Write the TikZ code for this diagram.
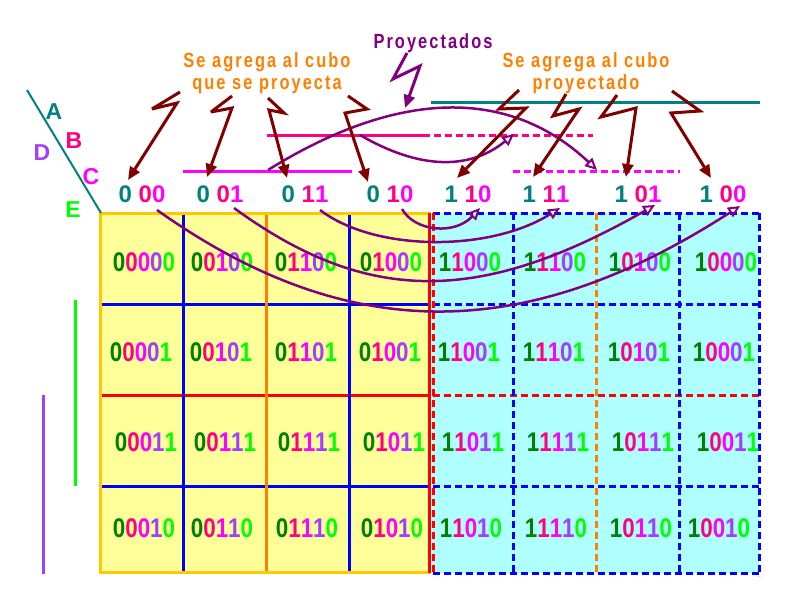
\documentclass[tikz,border=0pt]{standalone}
\usepackage{fontspec}
\setmainfont{Liberation Sans}
\newfontfamily\cellfont[FakeStretch=0.83]{Liberation Sans}
\newfontfamily\notefont[FakeStretch=0.8,LetterSpace=10]{Liberation Sans}
\usetikzlibrary{arrows.meta}
\definecolor{teal1}{HTML}{008080}
\definecolor{pinkr}{HTML}{FF0080}
\definecolor{magn}{HTML}{FF00FF}
\definecolor{purp}{HTML}{A040FF}
\definecolor{grn}{HTML}{00FF00}
\definecolor{dgrn}{HTML}{008000}
\definecolor{darkred}{HTML}{800000}
\definecolor{violet1}{HTML}{800080}
\definecolor{orng}{HTML}{FF8000}
\definecolor{gold1}{HTML}{FFC800}
\definecolor{yel}{HTML}{FFFF99}
\definecolor{cyn}{HTML}{B0FFFF}
\newcommand\kmcell[5]{\textcolor{dgrn}{#1}\textcolor{pinkr}{#2}\textcolor{magn}{#3}\textcolor{purp}{#4}\textcolor{grn}{#5}}
\newcommand\kmhdr[3]{\textcolor{teal1}{#1} \textcolor{pinkr}{#2}\textcolor{magn}{#3}}
\tikzset{
  gridln/.style={line width=3pt},
  dshln/.style={line width=3pt, dash pattern=on 7pt off 4pt},
  zig/.style={draw=darkred, line width=3pt, line join=miter, miter limit=4, -{Triangle[length=13pt,width=11pt]}},
  zigp/.style={draw=violet1, line width=3pt, line join=miter, miter limit=4, -{Triangle[length=13pt,width=11pt]}},
  curv/.style={draw=violet1, line width=2.5pt, -{Triangle[open,length=12pt,width=11pt,line width=2pt]}},
  cellt/.style={font=\cellfont\bfseries\fontsize{27}{27}\selectfont, inner sep=0pt},
  hdrt/.style={font=\bfseries\fontsize{24}{24}\selectfont, inner sep=0pt},
  lett/.style={font=\bfseries\fontsize{23}{23}\selectfont, inner sep=0pt},
  notet/.style={font=\notefont\bfseries\fontsize{20.5}{22}\selectfont, align=center, inner sep=0pt, text=orng},
  projt/.style={font=\notefont\bfseries\fontsize{20.5}{22}\selectfont, inner sep=0pt, text=violet1}
}
\begin{document}
\begin{tikzpicture}[x=1pt,y=-1pt]
\useasboundingbox (0,0) rectangle (800,600);
\fill[white] (0,0) rectangle (800,600);
% fills
\fill[yel] (100,213) rectangle (430,572);
\fill[cyn] (432,213) rectangle (759,573);
% yellow block lines
\draw[gridln, blue] (100,304) -- (430,304);
\draw[gridln, red] (100,395) -- (430,395);
\draw[gridln, blue] (100,486) -- (430,486);
\draw[gridln, blue] (183.5,213) -- (183.5,572);
\draw[gridln, orng] (266.5,213) -- (266.5,572);
\draw[gridln, blue] (349.5,213) -- (349.5,572);
\draw[gridln, gold1] (100,213) rectangle (429,572);
\draw[gridln, red] (429.5,213) -- (429.5,573);
% cyan block lines
\draw[dshln, blue] (433,213) -- (759,213);
\draw[dshln, blue] (433,304) -- (759,304);
\draw[dshln, red] (433,395) -- (759,395);
\draw[dshln, blue] (433,486) -- (759,486);
\draw[dshln, blue] (433,573) -- (759,573);
\draw[dshln, red] (433.5,213) -- (433.5,573);
\draw[dshln, blue] (513,213) -- (513,573);
\draw[dshln, orng] (596,213) -- (596,573);
\draw[dshln, blue] (679,213) -- (679,573);
\draw[dshln, blue] (759,213) -- (759,576);
% variable bars
\draw[line width=3pt, grn] (75,300) -- (75,486);
\draw[line width=3pt, purp] (43,395) -- (43,574);
\draw[line width=2pt, teal1] (27,90) -- (101,213);
% variable letters
\node[lett, text=teal1] (lA) at (54,112) {A};
\node[lett, text=pinkr] (lB) at (74,141) {B};
\node[lett, text=purp] (lD) at (42,153) {D};
\node[lett, text=magn] (lC) at (91,177) {C};
\node[lett, text=grn] (lE) at (73,210) {E};
% top bars
\draw[line width=3pt, magn] (183,171) -- (352,171);
\draw[line width=3pt, pinkr] (267,135) -- (430,135);
\draw[dshln, pinkr] (434,135) -- (593,135);
\draw[dshln, magn] (513,171) -- (680,171);
\draw[line width=3pt, teal1] (431,102) -- (760,102);
% header labels
\node[hdrt] (h1) at (142,194) {\kmhdr{0}{0}{0}};
\node[hdrt] (h2) at (220,194) {\kmhdr{0}{0}{1}};
\node[hdrt] (h3) at (305,194) {\kmhdr{0}{1}{1}};
\node[hdrt] (h4) at (390,194) {\kmhdr{0}{1}{0}};
\node[hdrt] (h5) at (468,194) {\kmhdr{1}{1}{0}};
\node[hdrt] (h6) at (546,194) {\kmhdr{1}{1}{1}};
\node[hdrt] (h7) at (638,194) {\kmhdr{1}{0}{1}};
\node[hdrt] (h8) at (723,194) {\kmhdr{1}{0}{0}};
% cells
\foreach \x/\y/\a/\b/\c/\d/\e/\n in {
 144/262/0/0/0/0/0/1, 222/262/0/0/1/0/0/2, 306/262/0/1/1/0/0/3, 391/262/0/1/0/0/0/4,
 470/262/1/1/0/0/0/5, 555/262/1/1/1/0/0/6, 640/262/1/0/1/0/0/7, 726/262/1/0/0/0/0/8,
 141/352/0/0/0/0/1/9, 221/352/0/0/1/0/1/10, 306/352/0/1/1/0/1/11, 390/352/0/1/0/0/1/12,
 469/352/1/1/0/0/1/13, 554/352/1/1/1/0/1/14, 639/352/1/0/1/0/1/15, 724/352/1/0/0/0/1/16,
 146/442/0/0/0/1/1/17, 225/442/0/0/1/1/1/18, 309/442/0/1/1/1/1/19, 394/442/0/1/0/1/1/20,
 473/442/1/1/0/1/1/21, 558/442/1/1/1/1/1/22, 643/442/1/0/1/1/1/23, 728/442/1/0/0/1/1/24,
 144/528/0/0/0/1/0/25, 222/528/0/0/1/1/0/26, 307/528/0/1/1/1/0/27, 392/528/0/1/0/1/0/28,
 471/528/1/1/0/1/0/29, 556/528/1/1/1/1/0/30, 641/528/1/0/1/1/0/31, 719/528/1/0/0/1/0/32}
 {\node[cellt] (c\n) at (\x,\y) {\kmcell{\a}{\b}{\c}{\d}{\e}};}
% notes
\node[notet] (nl) at (267,73) {Se agrega al cubo\\que se proyecta};
\node[notet] (nr) at (586,73) {Se agrega al cubo\\proyectado};
\node[projt, anchor=base] (np) at (433,48) {Proyectados};
% purple curves
\draw[curv] (268,170) .. controls (400,88) and (510,88) .. (597,170);
\draw[curv] (360,135) .. controls (420,170) and (470,170) .. (514,134);
\draw[curv] (402,209) .. controls (415,232) and (455,235) .. (480,208);
\draw[curv] (320,210) .. controls (375,252) and (490,252) .. (560,208);
\draw[curv] (234,208) .. controls (367,305) and (480,305) .. (655,205);
\draw[curv] (157,210) .. controls (347,345) and (525,345) .. (740,206);
% zigzag arrows
\draw[zigp] (407,53) -- (393,79) -- (420,66) -- (405,108);
\draw[zig] (180,92) -- (152,109) -- (177,103) -- (128,180);
\draw[zig] (232,96) -- (211,112) -- (232,108) -- (207,177);
\draw[zig] (268,98) -- (284,113) -- (269,110) -- (287,178);
\draw[zig] (348,96) -- (367,109) -- (345,113) -- (368,182);
\draw[zig] (519,90) -- (499,109) -- (526,108) -- (457,178);
\draw[zig] (566,94) -- (553,116) -- (579,109) -- (533,177);
\draw[zig] (617,95) -- (601,117) -- (636,108) -- (626,177);
\draw[zig] (672,91) -- (700,111) -- (671,113) -- (711,178);
\end{tikzpicture}
\end{document}
